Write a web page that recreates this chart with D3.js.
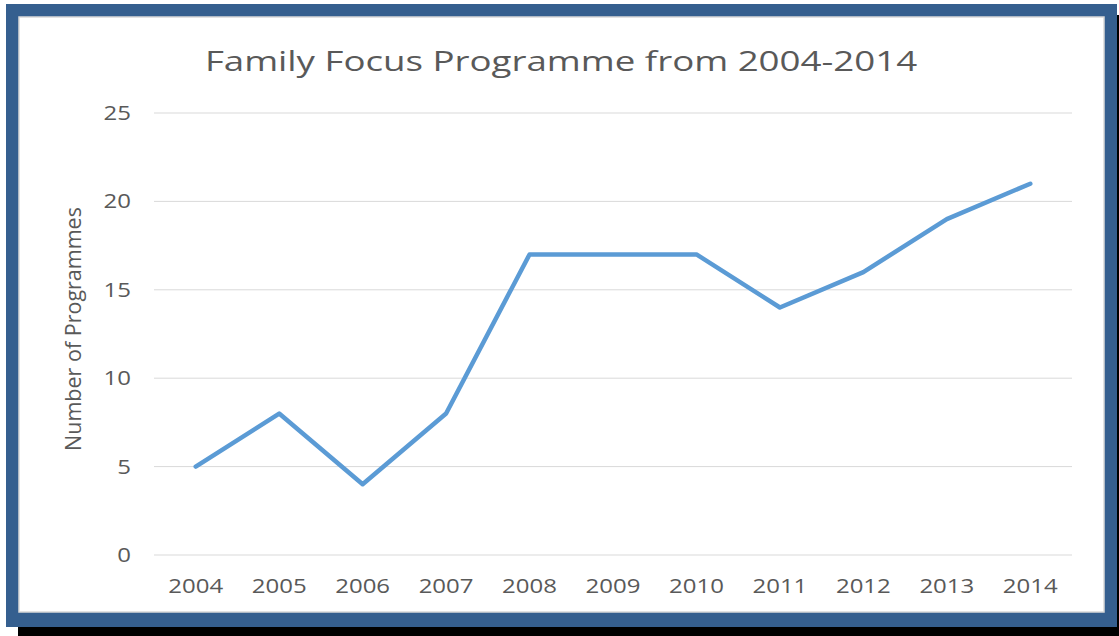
<!DOCTYPE html>
<html>
<head>
<meta charset="utf-8">
<script src="https://cdn.jsdelivr.net/npm/d3@7"></script>
<style>
  body { margin: 0; background: #fff; }
  svg text { font-family: "Open Sans", "Noto Sans", sans-serif; fill: #595959; }
</style>
</head>
<body>
<div id="chart"></div>
<script>
// data
const years = ["2004", "2005", "2006", "2007", "2008", "2009", "2010", "2011", "2012", "2013", "2014"];
const programmes = [5, 8, 4, 8, 17, 17, 17, 14, 16, 19, 21];
const yTicks = [0, 5, 10, 15, 20, 25];

const width = 1119, height = 636;
const margin = {left: 154, right: 47, top: 113, bottom: 81};
// the reference text looks stretched sideways
const stretch = 1.2;

const svg = d3.select("#chart").append("svg")
  .attr("width", width)
  .attr("height", height);

// frame: black shadow, blue border, white panel
svg.append("rect").attr("x", 18).attr("y", 15).attr("width", 1101).attr("height", 621).attr("fill", "#000");
svg.append("rect").attr("x", 6).attr("y", 4).attr("width", 1111).attr("height", 623).attr("fill", "#355F8F");
svg.append("rect").attr("x", 19).attr("y", 17).attr("width", 1085).attr("height", 595)
  .attr("fill", "#fff").attr("stroke", "#d9d9d9").attr("stroke-width", 1.5);

const xscale = d3.scaleBand()
  .domain(years)
  .range([margin.left, width - margin.right]);

const yscale = d3.scaleLinear()
  .domain([0, 25])
  .range([height - margin.bottom, margin.top]);

// gridlines
svg.append("g")
  .selectAll("line")
  .data(yTicks)
  .join("line")
  .attr("x1", margin.left)
  .attr("x2", width - margin.right)
  .attr("y1", d => yscale(d))
  .attr("y2", d => yscale(d))
  .attr("stroke", "#d9d9d9")
  .attr("stroke-width", 1);

// y tick labels
svg.append("g")
  .selectAll("text")
  .data(yTicks)
  .join("text")
  .attr("transform", d => `translate(131,${yscale(d)}) scale(${stretch},1)`)
  .attr("dy", "0.35em")
  .attr("text-anchor", "end")
  .attr("font-size", 20)
  .text(d => d);

// x tick labels
svg.append("g")
  .selectAll("text")
  .data(years)
  .join("text")
  .attr("transform", d => `translate(${xscale(d) + xscale.bandwidth() / 2},593) scale(${stretch},1)`)
  .attr("text-anchor", "middle")
  .attr("font-size", 20)
  .text(d => d);

// line
const line = d3.line()
  .x((d, i) => xscale(years[i]) + xscale.bandwidth() / 2)
  .y(d => yscale(d));

svg.append("path")
  .datum(programmes)
  .attr("d", line)
  .attr("fill", "none")
  .attr("stroke", "#5B9BD5")
  .attr("stroke-width", 4.5)
  .attr("stroke-linejoin", "round")
  .attr("stroke-linecap", "round");

// title
svg.append("text")
  .attr("transform", "translate(561,71) scale(1.31,1)")
  .attr("text-anchor", "middle")
  .attr("font-size", 28)
  .text("Family Focus Programme from 2004-2014");

// y axis label
svg.append("text")
  .attr("transform", "translate(81,329) rotate(-90)")
  .attr("text-anchor", "middle")
  .attr("font-size", 21.5)
  .text("Number of Programmes");
</script>
</body>
</html>
